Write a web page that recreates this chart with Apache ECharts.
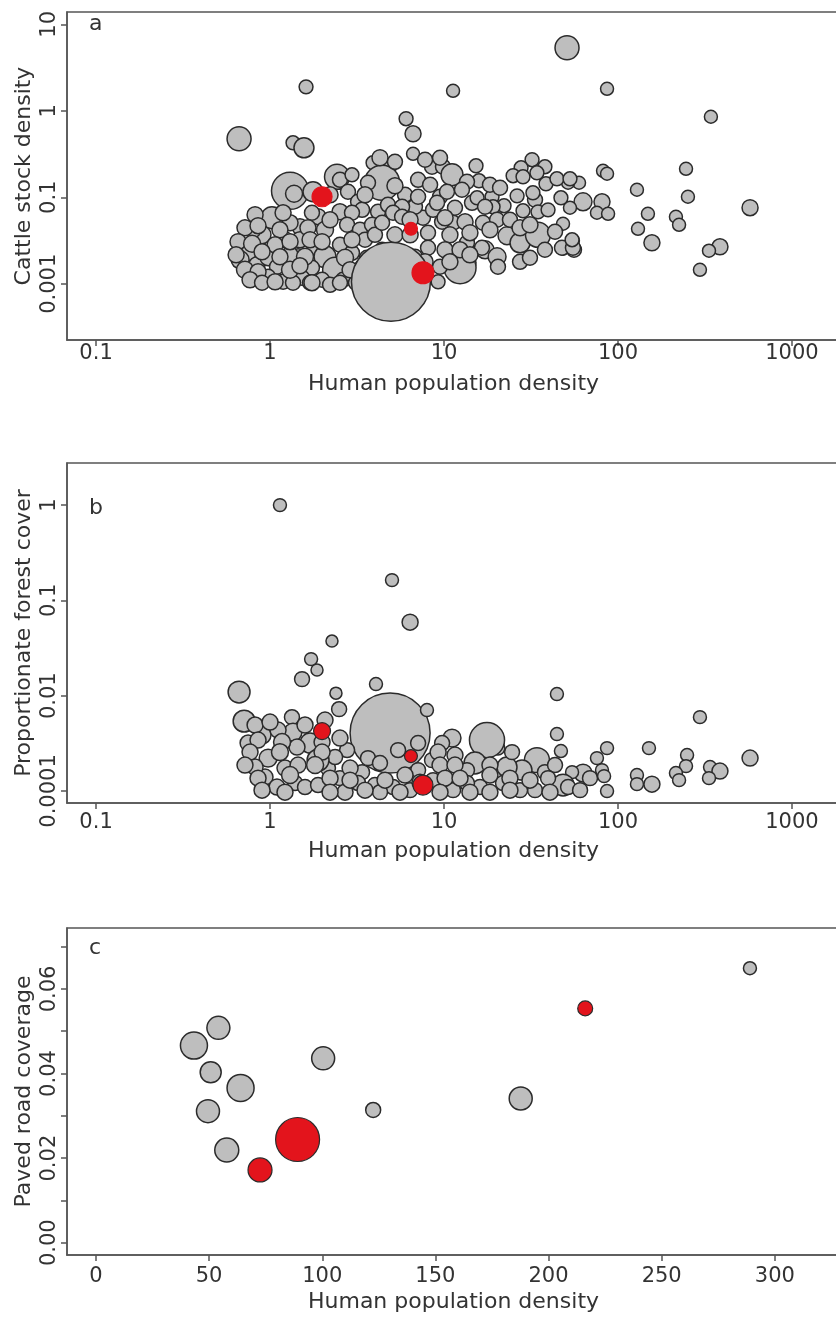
<!DOCTYPE html>
<html><head><meta charset="utf-8">
<script src="https://cdn.jsdelivr.net/npm/echarts@6/dist/echarts.min.js"></script>
<style>html,body{margin:0;padding:0;background:#fff}#c{width:836px;height:1318px}</style>
</head><body><div id="c"></div>
<script>
// Rows are [log10(human population density), log10(response), relative bubble weight]
// ---------- Panel a: cattle stock density ----------
const cattleA = [
[-0.178,-0.324,36],[0.207,0.277,12],[0.132,-0.370,12],[0.195,-0.428,25],[0.782,-0.092,12],[0.822,-0.266,16],[0.822,-0.497,10.5],
[0.115,-0.925,86],[0.138,-0.960,18],[0.247,-0.936,25],[1.707,0.728,36],[1.052,0.231,10.5],[1.937,0.254,10.5],[2.534,-0.069,10.5],
[2.391,-0.671,10.5],[2.109,-0.913,10.5],[2.402,-0.994,10.5],[2.759,-1.121,16],[2.172,-1.191,10.5],[2.333,-1.225,10.5],[2.351,-1.318,10.5],
[2.115,-1.364,10.5],[2.195,-1.526,16],[2.586,-1.572,16],[2.523,-1.618,10.5],[2.471,-1.838,10.5],[1.914,-0.694,10.5],[1.937,-0.728,10.5],
[1.776,-0.832,10.5],[1.713,-0.832,10.5],[1.799,-1.052,20],[1.908,-1.052,16],[1.724,-1.121,10.5],[1.879,-1.179,10.5],[1.943,-1.191,10.5],
[1.684,-1.306,10.5],[1.741,-1.503,10.5],[1.747,-1.607,14],[1.684,-1.595,10.5],
[0.931,-0.647,14],[0.994,-0.647,14],[1.046,-0.740,30],[1.184,-0.636,12],[1.201,-0.809,12],[1.132,-0.821,14],[0.851,-0.798,14],[0.920,-0.855,14],
[1.506,-0.566,12],[1.443,-0.659,12],[1.580,-0.647,12],[1.397,-0.751,12],[1.454,-0.763,12],[1.534,-0.717,12],[1.586,-0.844,12],[1.649,-0.786,12],[1.724,-0.786,12],
[1.276,-0.994,12],[1.345,-1.098,12],[1.282,-1.110,12],[1.420,-0.983,12],[1.523,-1.029,14],[1.511,-0.948,12],[1.454,-1.156,12],[1.540,-1.168,12],[1.598,-1.145,12],[1.672,-1.006,12],
[1.362,-1.445,20],[1.437,-1.526,25],[1.540,-1.434,39],[1.580,-1.607,14],[1.678,-1.584,14],[1.741,-1.584,14],[1.736,-1.491,12],
[1.236,-1.607,20],[1.305,-1.688,20],[1.310,-1.803,14],[1.138,-1.757,16],[1.092,-1.815,64],
[1.218,-1.584,14],[1.132,-1.526,14],[1.052,-1.295,14],[0.989,-1.283,14],[0.908,-1.410,14],[0.908,-1.584,14],[0.833,-1.688,14],[0.977,-1.803,14],
[0.879,-1.237,14],[0.937,-1.145,14],[1.063,-1.121,14],[1.161,-1.064,14],[1.190,-1.006,12],[1.236,-1.110,14],[1.224,-1.295,14],[1.305,-1.260,14],
[1.379,-1.260,14],[0.833,-1.110,14],[0.776,-0.971,14],[0.851,-0.994,14],[0.977,-0.994,14],[1.017,-0.936,14],[1.103,-0.913,14],[0.960,-1.064,14],
[0.385,-0.763,39],[0.402,-0.798,14],[0.471,-0.740,12],[0.592,-0.601,12],[0.690,-0.647,10.5],[0.632,-0.740,12],[0.644,-0.832,77],[0.563,-0.832,14],
[0.448,-0.936,14],[0.506,-1.052,14],[0.529,-1.145,14],[0.621,-1.168,14],[0.678,-1.087,14],[0.759,-1.110,14],[0.402,-1.168,16],[0.471,-1.179,14],
[0.276,-1.225,16],[0.241,-1.179,14],[0.172,-1.341,16],[0.115,-1.295,16],[0.011,-1.237,30],[-0.046,-1.434,20],[-0.098,-1.376,16],[-0.126,-1.642,16],
[-0.172,-1.723,20],[-0.075,-1.780,16],[-0.011,-1.699,16],[0.040,-1.803,14],[-0.011,-1.919,14],[0.086,-1.491,16],[0.172,-1.491,16],[0.161,-1.699,20],
[0.115,-1.665,16],[0.259,-1.572,16],[0.316,-1.688,30],[0.374,-1.838,39],[0.241,-1.815,14],[0.184,-1.931,14],[0.299,-1.954,14],[0.402,-1.549,14],
[0.443,-1.318,14],[0.517,-1.376,14],[0.586,-1.318,14],[0.546,-1.491,14],[0.603,-1.434,14],[0.471,-1.642,14],[0.557,-1.699,14],[0.644,-1.295,14],
[0.707,-1.179,14],[0.759,-1.225,14],[0.644,-1.607,14],[0.420,-1.954,14],[0.529,-1.803,14],[0.075,-1.977,14],[0.132,-1.988,14],[0.230,-1.988,14],
[0.345,-2.012,14],[0.494,-1.988,14],[0.966,-1.977,12],
[-0.086,-1.202,16],[0.075,-1.179,16],[-0.144,-1.353,16],[-0.069,-1.329,16],[0.057,-1.376,16],[0.218,-1.353,16],[0.316,-1.376,18],
[-0.184,-1.514,16],[-0.103,-1.538,18],[0.029,-1.549,16],[0.115,-1.514,16],[0.230,-1.491,16],[0.299,-1.514,16],[0.471,-1.491,16],
[-0.195,-1.665,16],[-0.046,-1.630,16],[0.057,-1.688,16],[0.201,-1.688,18],[0.431,-1.699,18],
[-0.144,-1.838,18],[-0.069,-1.861,16],[0.115,-1.838,18],[0.172,-1.792,16],[0.460,-1.838,16],
[-0.115,-1.954,16],[-0.046,-1.988,14],[0.029,-1.977,16],[0.241,-1.988,16],[0.402,-1.988,14],
[0.632,-0.543,16],[0.718,-0.590,14],[0.891,-0.566,14],[0.977,-0.543,14],[0.345,-0.971,16],[0.546,-0.971,16],[0.718,-0.867,16],
[0.345,-1.260,16],[0.805,-1.260,16],[1.006,-1.237,16],[1.121,-1.283,16],[0.718,-1.434,16],[0.805,-1.434,16],[1.034,-1.434,16],[1.149,-1.410,16],
[1.006,-1.607,16],[1.092,-1.607,16],[1.149,-1.665,16],[0.891,-1.746,16],[1.034,-1.746,16],
[1.264,-0.855,14],[1.322,-0.890,14],[1.264,-1.376,16],[1.437,-1.353,16],[1.494,-1.318,16],[1.638,-1.399,14],[1.437,-1.746,14],[1.494,-1.699,14],
[0.695,-1.977,390]
];
const redCattleA = [[0.299,-0.994,25],[0.810,-1.364,10.5],[0.879,-1.873,30]];

// ---------- Panel b: proportionate forest cover ----------
const forestB = [
[0.690,-2.392,400],
[0.057,0.000,10.5],[0.701,-0.787,10.5],[0.805,-1.228,16],[0.356,-1.427,9],[0.236,-1.616,10.5],[0.270,-1.731,9],[0.184,-1.826,14],
[-0.178,-1.962,30],[0.609,-1.878,10.5],[0.379,-1.973,9],[0.397,-2.141,14],[-0.149,-2.267,30],[1.649,-1.983,10.5],[1.649,-2.403,10.5],
[1.672,-2.581,10.5],[2.471,-2.225,10.5],[2.178,-2.550,10.5],[2.397,-2.623,10.5],[2.391,-2.739,10.5],[2.333,-2.812,10.5],[2.351,-2.886,10.5],
[2.109,-2.833,10.5],[2.109,-2.928,10.5],[2.195,-2.928,16],[2.529,-2.749,10.5],[2.586,-2.791,16],[2.523,-2.865,10.5],[2.759,-2.655,16],
[1.937,-2.550,10.5],[1.879,-2.655,10.5],[1.908,-2.781,10.5],[1.920,-2.844,10.5],[1.937,-3.001,10.5],[1.799,-2.812,20],[1.736,-2.802,10.5],
[1.684,-2.938,30],[1.713,-2.959,14],[1.534,-2.676,39],[1.580,-2.802,14],[1.523,-2.991,14],[1.448,-2.781,25],[1.362,-2.749,25],[1.391,-2.592,14],
[1.310,-2.550,12],[1.247,-2.466,77],[1.178,-2.707,30],[1.132,-2.781,14],[1.046,-2.445,20],[0.989,-2.497,14],[0.902,-2.151,10.5],[0.851,-2.497,14],
[1.052,-2.991,14],[1.207,-2.959,14],[1.339,-2.917,14],[1.437,-2.991,14],[1.132,-2.917,14],[0.937,-2.886,14],[0.126,-2.225,14],[-0.046,-2.413,20],
[-0.126,-2.497,16],[0.132,-2.382,20],[0.046,-2.361,16],[0.230,-2.497,25],[-0.011,-2.655,20],[0.086,-2.760,16],[-0.029,-2.854,16],[0.040,-2.959,16],
[0.144,-2.917,14],[0.201,-2.959,14],[0.276,-2.938,14],[0.333,-2.760,14],[0.402,-2.865,14],[0.443,-2.571,14],[0.374,-2.644,14],[0.529,-2.802,14],
[0.563,-2.655,14],[0.632,-2.707,14],[0.603,-2.938,14],[0.506,-2.917,14],[0.736,-2.571,14],[0.707,-2.959,14],[0.155,-2.539,16],[-0.086,-2.749,16],
[0.851,-2.781,14],[0.776,-2.833,16],[0.931,-2.676,14],[0.276,-2.676,30],[0.431,-3.012,16],[0.632,-3.012,14],[0.805,-2.991,14],
[-0.086,-2.308,16],[0.000,-2.277,16],[0.201,-2.308,16],[0.316,-2.256,16],[-0.069,-2.466,16],[0.069,-2.487,18],[0.299,-2.487,16],[0.402,-2.445,16],
[-0.115,-2.592,16],[0.057,-2.592,18],[0.299,-2.592,16],[0.966,-2.592,16],[1.063,-2.623,16],[-0.144,-2.728,16],[0.161,-2.728,16],[0.259,-2.728,18],
[0.460,-2.760,16],[0.977,-2.728,16],[1.063,-2.728,16],[1.264,-2.728,16],[1.638,-2.728,14],[-0.069,-2.865,16],[0.115,-2.833,18],[0.345,-2.865,16],
[0.460,-2.886,16],[0.661,-2.886,16],[0.862,-2.907,16],[1.006,-2.865,16],[1.092,-2.865,16],[1.264,-2.833,16],[1.379,-2.865,16],[1.494,-2.886,16],
[1.598,-2.865,14],[1.839,-2.865,14],[-0.046,-2.991,16],[0.086,-3.012,16],[0.345,-3.012,16],[0.546,-2.991,16],[0.747,-3.012,16],[0.977,-3.012,16],
[1.149,-3.012,16],[1.264,-3.012,16],[1.379,-2.991,16],[1.609,-3.012,16],[1.782,-2.991,14]
];
const redForestB = [[0.299,-2.371,18],[0.810,-2.634,10.5],[0.879,-2.938,25]];

// ---------- Panel c: paved road coverage (linear scales) ----------
const roadC = [
[43.3,0.0466,45.6],[54.1,0.0508,33],[50.7,0.0403,27.6],[63.9,0.0366,45.6],[49.5,0.0311,33],
[57.8,0.0219,36],[100.4,0.0436,33],[122.5,0.0314,14],[187.7,0.0341,33],[289,0.0649,10.5]
];
const redRoadC = [[89.1,0.0244,121],[72.5,0.0172,36],[216.2,0.0554,14]];

// ---------- Tick labels ----------
const xLogTicks = [-1,0,1,2,3];
const xLogLabels = ['0.1','1','10','100','1000'];
const yLogTicksA = [-2,-1,0,1];
const yLogLabelsA = ['0.001','0.1','1','10'];
const yLogTicksB = [-3,-2,-1,0];
const yLogLabelsB = ['0.0001','0.01','0.1','1'];
const xTicksC = [0,50,100,150,200,250,300];
const yTickMarksC = [0,0.01,0.02,0.03,0.04,0.05,0.06,0.07];
const yLabelTicksC = [0,0.02,0.04,0.06];
const yLabelsC = ['0.00','0.02','0.04','0.06'];

const FONT = 'DejaVu Sans';
const TXT = '#333';
const LINE = '#555';
const GREY = '#bebebe';
const RED = '#e3141c';
const EDGE = '#2b2b2b';

function lookup(ticks, labels) {
  return function (v) {
    for (let i = 0; i < ticks.length; i++) if (Math.abs(ticks[i] - v) < 1e-9) return labels[i];
    return '';
  };
}
function axisBase(extra) {
  return Object.assign({
    type: 'value',
    nameLocation: 'middle',
    nameMoveOverlap: false,
    nameTextStyle: { fontFamily: FONT, fontSize: 22, color: TXT },
    axisLine: { show: true, onZero: false, lineStyle: { color: LINE, width: 1.5 } },
    axisTick: { show: true, inside: false, length: 6, lineStyle: { color: LINE, width: 1.5 } },
    splitLine: { show: false },
    axisLabel: { fontFamily: FONT, fontSize: 21, color: TXT }
  }, extra);
}
function xAxisDef(gridIndex, min, max, ticks, fmt, labelMargin, nameGap) {
  const a = axisBase({ gridIndex, min, max, name: 'Human population density', nameGap });
  a.axisTick.customValues = ticks;
  a.axisLabel = Object.assign({}, a.axisLabel, { customValues: ticks, formatter: fmt, margin: labelMargin });
  return a;
}
function yAxisDef(gridIndex, min, max, name, tickVals, labelVals, fmt) {
  const a = axisBase({ gridIndex, min, max, name, nameGap: 32, nameRotate: 90 });
  a.axisTick.customValues = tickVals;
  a.axisLabel = Object.assign({}, a.axisLabel, { customValues: labelVals, formatter: fmt, rotate: 90, margin: 7 });
  return a;
}
const symSize = v => 4 * Math.sqrt(v[2]);
function greySeries(i, data) {
  return { type: 'scatter', xAxisIndex: i, yAxisIndex: i, data, symbolSize: symSize,
    itemStyle: { color: GREY, borderColor: EDGE, borderWidth: 1.5, opacity: 1 }, emphasis: { disabled: true }, z: 2 };
}
function redSeries(i, data, edge) {
  return { type: 'scatter', xAxisIndex: i, yAxisIndex: i, data, symbolSize: symSize,
    itemStyle: { color: RED, borderColor: edge, borderWidth: 1.2, opacity: 1 }, emphasis: { disabled: true }, z: 3 };
}
const gridStyle = { show: true, borderColor: LINE, borderWidth: 1.5, backgroundColor: 'transparent', outerBoundsMode: 'none', containLabel: false };
const letter = (t, top) => ({ text: t, left: 89, top, padding: 0,
  textStyle: { fontFamily: FONT, fontSize: 22, fontWeight: 'normal', color: TXT } });

const option = {
  animation: false,
  backgroundColor: '#fff',
  title: [letter('a', 13), letter('b', 497), letter('c', 937)],
  grid: [
    Object.assign({ left: 67, right: -4, top: 12, height: 328 }, gridStyle),
    Object.assign({ left: 67, right: -4, top: 463, height: 340 }, gridStyle),
    Object.assign({ left: 67, right: -4, top: 928, height: 327 }, gridStyle)
  ],
  xAxis: [
    xAxisDef(0, -1.167, 3.276, xLogTicks, lookup(xLogTicks, xLogLabels), 3, 33),
    xAxisDef(1, -1.167, 3.276, xLogTicks, lookup(xLogTicks, xLogLabels), 9, 37),
    xAxisDef(2, -12.8, 328.8, xTicksC, v => String(v), 11, 36)
  ],
  yAxis: [
    yAxisDef(0, -2.65, 1.142, 'Cattle stock density', yLogTicksA, yLogTicksA, lookup(yLogTicksA, yLogLabelsA)),
    yAxisDef(1, -3.126, 0.442, 'Proportionate forest cover', yLogTicksB, yLogTicksB, lookup(yLogTicksB, yLogLabelsB)),
    yAxisDef(2, -0.0029, 0.0744, 'Paved road coverage', yTickMarksC, yLabelTicksC, lookup(yLabelTicksC, yLabelsC))
  ],
  series: [
    greySeries(0, cattleA),
    redSeries(0, redCattleA, RED),
    greySeries(1, forestB),
    redSeries(1, redForestB, EDGE),
    greySeries(2, roadC),
    redSeries(2, redRoadC, EDGE)
  ]
};
const chart = echarts.init(document.getElementById('c'));
chart.setOption(option);
</script>
</body></html>
